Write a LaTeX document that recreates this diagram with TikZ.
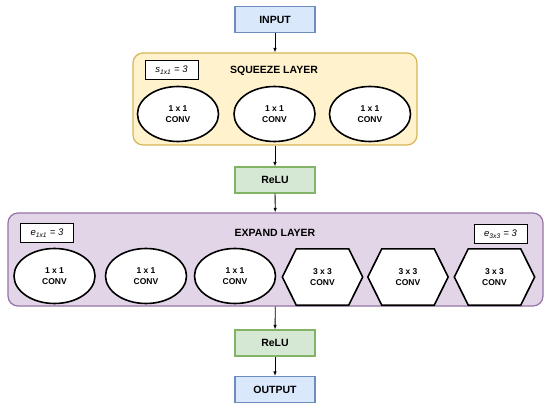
\documentclass[tikz,border=0pt]{standalone}
\usepackage{fontspec}
\setmainfont{Liberation Sans}
\usetikzlibrary{shapes.geometric,arrows.meta}
\definecolor{bfill}{HTML}{DAE8FC}\definecolor{bdraw}{HTML}{6C8EBF}
\definecolor{yfill}{HTML}{FFF2CC}\definecolor{ydraw}{HTML}{D6B656}
\definecolor{gfill}{HTML}{D5E8D4}\definecolor{gdraw}{HTML}{82B366}
\definecolor{pfill}{HTML}{E1D5E7}\definecolor{pdraw}{HTML}{9673A6}
\tikzset{
  flowbox/.style={rectangle,minimum width=80pt,minimum height=26pt,inner sep=0pt,line width=1.2pt,font=\fontsize{10.5}{12}\selectfont\bfseries},
  inbox/.style={flowbox,fill=bfill,draw=bdraw},
  relubox/.style={flowbox,fill=gfill,draw=gdraw},
  layerbox/.style={rectangle,rounded corners=10pt,line width=1.2pt,inner sep=0pt},
  convell/.style={ellipse,draw=black,fill=white,line width=1.6pt,minimum width=81pt,minimum height=55pt,inner sep=0pt,align=center,font=\fontsize{8.5}{10.5}\selectfont\bfseries},
  hexslot/.style={rectangle,minimum width=80pt,minimum height=56pt,inner sep=0pt,align=center,font=\fontsize{8.5}{10.5}\selectfont\bfseries},
  hexline/.style={draw=black,fill=white,line width=1.6pt,line join=miter},
  parbox/.style={rectangle,draw=black,fill=white,line width=1pt,minimum width=53pt,minimum height=19pt,inner sep=0pt,font=\fontsize{9.5}{11}\selectfont\itshape},
  title/.style={font=\fontsize{10.5}{12}\selectfont\bfseries},
  arr/.style={-{Latex[length=4.5pt,width=3.5pt]},line width=0.8pt}
}
\begin{document}
\begin{tikzpicture}[x=1pt,y=-1pt]
\useasboundingbox (0,0) rectangle (550,412);
\fill[white] (0,0) rectangle (550,412);
% nodes
\node[inbox] (input) at (275,19.5) {INPUT};
\node[layerbox,fill=yfill,draw=ydraw,minimum width=284pt,minimum height=92pt] (sq) at (275,99) {};
\node[parbox] (s11) at (171.5,70) {s\textsubscript{1x1} = 3};
\node[title] (sqt) at (274,71) {SQUEEZE LAYER};
\node[convell] (sc1) at (178,114) {1 x 1\\CONV};
\node[convell] (sc2) at (274.5,114) {1 x 1\\CONV};
\node[convell] (sc3) at (370,114) {1 x 1\\CONV};
\node[relubox] (relu1) at (275,180) {ReLU};
\node[layerbox,fill=pfill,draw=pdraw,minimum width=535pt,minimum height=93pt] (ex) at (275.5,259.5) {};
\node[parbox] (e11) at (47,233) {e\textsubscript{1x1} = 3};
\node[parbox] (e33) at (500.5,234) {e\textsubscript{3x3} = 3};
\node[title] (ext) at (275,233) {EXPAND LAYER};
\node[convell] (ec1) at (54.5,276) {1 x 1\\CONV};
\node[convell] (ec2) at (146,276) {1 x 1\\CONV};
\node[convell] (ec3) at (235,276) {1 x 1\\CONV};
\foreach \n/\cx in {eh1/322.5,eh2/408,eh3/494.5}{
  \node[hexslot] (\n) at (\cx,277) {};
  \path[hexline] (\n.west) -- ([xshift=14pt]\n.north west) -- ([xshift=-14pt]\n.north east) -- (\n.east) -- ([xshift=-14pt]\n.south east) -- ([xshift=14pt]\n.south west) -- cycle;
  \node[hexslot] at (\n) {3 x 3\\CONV};
}
\node[relubox] (relu2) at (275,343) {ReLU};
\node[inbox] (output) at (275,389.5) {OUTPUT};
% connectors
\draw[arr] (input) -- (sq);
\draw[arr] (sq) -- (relu1);
\draw[arr] (relu1) -- (ex);
\draw[arr] (ex) -- (relu2);
\draw[arr] (relu2) -- (output);
\end{tikzpicture}
\end{document}
